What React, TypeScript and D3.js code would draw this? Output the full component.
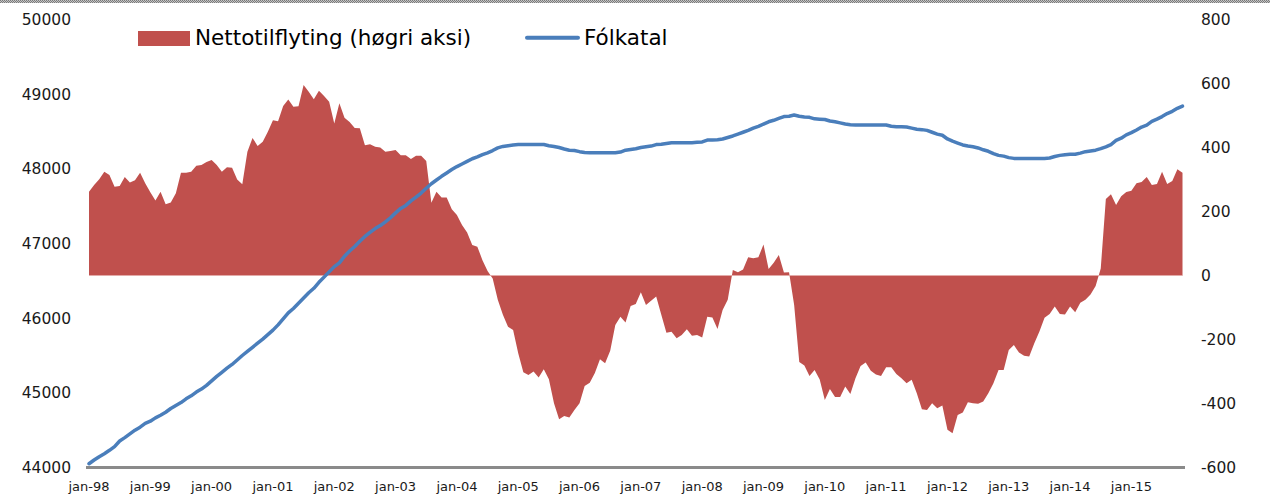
import React, { useEffect, useRef } from "react";
import * as d3 from "d3";

// Monthly, jan-98 .. nov-15
const monthNames = ["jan", "feb", "mar", "apr", "mai", "jun", "jul", "aug", "sep", "okt", "nov", "des"];
const years = ["98", "99", "00", "01", "02", "03", "04", "05", "06", "07", "08", "09", "10", "11", "12", "13", "14", "15"];

// Nettotilflyting (right axis)
const netto = [
  262, 283, 301, 324, 314, 277, 280, 308, 291, 298, 321, 288,
  260, 234, 262, 223, 228, 257, 321, 321, 324, 343, 345, 355,
  361, 345, 324, 338, 337, 300, 285, 387, 430, 405, 418, 449,
  485, 482, 530, 550, 527, 529, 595, 574, 551, 577, 561, 543,
  475, 538, 493, 480, 461, 460, 407, 410, 402, 400, 387, 389,
  392, 376, 376, 364, 374, 374, 358, 227, 262, 244, 244, 207,
  189, 158, 134, 95, 90, 48, 14, -9, -76, -123, -160, -170,
  -243, -302, -311, -300, -319, -293, -324, -399, -449, -439, -444, -420,
  -399, -345, -335, -305, -262, -274, -235, -155, -129, -147, -95, -89,
  -52, -92, -79, -66, -123, -179, -176, -196, -186, -168, -188, -186,
  -194, -129, -131, -167, -108, -76, 17, 10, 19, 57, 54, 57,
  97, 20, 40, 64, 9, 10, -92, -270, -281, -314, -295, -325,
  -389, -355, -380, -380, -347, -370, -321, -283, -272, -298, -309, -314,
  -287, -287, -308, -321, -337, -326, -368, -418, -420, -399, -415, -406,
  -482, -493, -436, -428, -396, -399, -401, -394, -368, -337, -295, -295,
  -233, -217, -241, -251, -253, -212, -175, -132, -120, -97, -120, -122,
  -97, -115, -85, -76, -59, -33, 22, 239, 254, 220, 248, 261,
  265, 288, 292, 308, 283, 286, 324, 286, 295, 332, 321,
];

// Fólkatal (left axis)
const folkatal = [
  44050, 44100, 44145, 44185, 44230, 44280, 44355, 44400, 44450, 44500, 44540, 44590,
  44620, 44665, 44700, 44740, 44790, 44830, 44870, 44920, 44960, 45010, 45050, 45100,
  45160, 45220, 45275, 45330, 45380, 45440, 45500, 45555, 45610, 45665, 45720, 45780,
  45840, 45910, 45990, 46070, 46130, 46200, 46270, 46340, 46400, 46480, 46550, 46620,
  46690, 46740, 46830, 46900, 46960, 47030, 47095, 47150, 47200, 47240, 47290, 47345,
  47410, 47470, 47510, 47570, 47620, 47675, 47740, 47800, 47850, 47900, 47945, 47990,
  48030, 48065, 48100, 48135, 48160, 48190, 48215, 48245, 48280, 48300, 48310, 48320,
  48325, 48325, 48325, 48325, 48325, 48325, 48310, 48300, 48285, 48265, 48250, 48245,
  48230, 48220, 48215, 48215, 48215, 48215, 48215, 48215, 48225, 48250, 48260, 48270,
  48285, 48295, 48305, 48325, 48330, 48340, 48350, 48350, 48350, 48350, 48350, 48355,
  48360, 48385, 48385, 48390, 48400, 48420, 48440, 48465, 48490, 48515, 48545, 48570,
  48600, 48630, 48650, 48675, 48700, 48705, 48720, 48705, 48695, 48690, 48670, 48665,
  48660, 48640, 48630, 48615, 48600, 48590, 48587, 48587, 48587, 48587, 48587, 48587,
  48587, 48570, 48565, 48565, 48560, 48545, 48530, 48525, 48515, 48490, 48465, 48450,
  48400, 48370, 48345, 48320, 48305, 48295, 48280, 48255, 48235, 48205, 48180, 48170,
  48150, 48140, 48140, 48140, 48140, 48140, 48140, 48140, 48145, 48165, 48180, 48190,
  48195, 48195, 48210, 48230, 48240, 48250, 48270, 48295, 48325, 48380, 48410, 48455,
  48485, 48520, 48560, 48585, 48635, 48665, 48700, 48740, 48770, 48810, 48840,
];

const leftTicks = [44000, 45000, 46000, 47000, 48000, 49000, 50000];
const rightTicks = [-600, -400, -200, 0, 200, 400, 600, 800];

const months = years.flatMap((y) => monthNames.map((m) => `${m}-${y}`)).slice(0, netto.length);

export default function App() {
  const svgRef = useRef(null);

  useEffect(() => {
    document.body.style.margin = "0";
    const width = 1270;
    const height = 495;
    const font = "'DejaVu Sans', Verdana, sans-serif";

    const svg = d3.select(svgRef.current);
    svg.selectAll("*").remove();
    svg.attr("width", width).attr("height", height);

    const x = d3.scalePoint().domain(months).range([89, 1182.5]);
    const yL = d3.scaleLinear().domain([44000, 50000]).range([467.5, 19.5]);
    const yR = d3.scaleLinear().domain([-600, 800]).range([467.5, 19.5]);

    // dotted strip at the top edge
    const defs = svg.append("defs");
    const pat = defs
      .append("pattern")
      .attr("id", "chk")
      .attr("width", 2)
      .attr("height", 2)
      .attr("patternUnits", "userSpaceOnUse");
    pat.append("rect").attr("width", 2).attr("height", 2).attr("fill", "#c4c4c4");
    pat.append("rect").attr("width", 1).attr("height", 1).attr("fill", "#7a7a7a");
    pat.append("rect").attr("x", 1).attr("y", 1).attr("width", 1).attr("height", 1).attr("fill", "#7a7a7a");
    svg.append("rect").attr("x", 0).attr("y", 0).attr("width", width).attr("height", 3).attr("fill", "url(#chk)");

    const area = d3
      .area<number>()
      .x((_, i) => x(months[i]))
      .y0(yR(0))
      .y1((d) => yR(d));

    svg.append("path").datum(netto).attr("d", area).attr("fill", "#c0504d");

    svg
      .append("line")
      .attr("x1", x(months[0]))
      .attr("x2", x(months[months.length - 1]))
      .attr("y1", yR(0))
      .attr("y2", yR(0))
      .attr("stroke", "#e3aaa8")
      .attr("stroke-width", 1);

    // bottom axis line
    svg
      .append("line")
      .attr("x1", 86)
      .attr("x2", 1185)
      .attr("y1", yL(44000))
      .attr("y2", yL(44000))
      .attr("stroke", "#8a8a8a")
      .attr("stroke-width", 3);

    const line = d3
      .line<number>()
      .x((_, i) => x(months[i]))
      .y((d) => yL(d));

    svg
      .append("path")
      .datum(folkatal)
      .attr("d", line)
      .attr("fill", "none")
      .attr("stroke", "#4a7ebb")
      .attr("stroke-width", 3.5)
      .attr("stroke-linejoin", "round")
      .attr("stroke-linecap", "round");

    // left axis labels
    svg
      .append("g")
      .selectAll("text")
      .data(leftTicks)
      .join("text")
      .attr("x", 71)
      .attr("y", (d) => yL(d))
      .attr("dy", "0.36em")
      .attr("text-anchor", "end")
      .attr("font-family", font)
      .attr("font-size", "15.5px")
      .attr("fill", "#1a1a1a")
      .text((d) => d);

    // right axis labels
    svg
      .append("g")
      .selectAll("text")
      .data(rightTicks)
      .join("text")
      .attr("x", 1201)
      .attr("y", (d) => yR(d))
      .attr("dy", "0.36em")
      .attr("text-anchor", "start")
      .attr("font-family", font)
      .attr("font-size", "15.5px")
      .attr("fill", "#1a1a1a")
      .text((d) => d);

    // x labels every january
    const janLabels = months.filter((m) => m.startsWith("jan"));
    svg
      .append("g")
      .selectAll("text")
      .data(janLabels)
      .join("text")
      .attr("x", (d) => x(d))
      .attr("y", 490.5)
      .attr("text-anchor", "middle")
      .attr("font-family", font)
      .attr("font-size", "13px")
      .attr("fill", "#1a1a1a")
      .text((d) => d);

    // legend
    const lg = svg.append("g").attr("font-family", font).attr("font-size", "21.5px").attr("fill", "#000");
    lg.append("rect").attr("x", 138).attr("y", 31).attr("width", 52).attr("height", 15).attr("fill", "#c0504d");
    lg.append("text").attr("x", 195).attr("y", 45).text("Nettotilflyting (høgri aksi)");
    lg.append("line")
      .attr("x1", 527)
      .attr("x2", 578)
      .attr("y1", 37.7)
      .attr("y2", 37.7)
      .attr("stroke", "#4a7ebb")
      .attr("stroke-width", 4)
      .attr("stroke-linecap", "round");
    lg.append("text").attr("x", 584).attr("y", 45).text("Fólkatal");
  }, []);

  return <svg ref={svgRef} style={{ display: "block" }} />;
}
